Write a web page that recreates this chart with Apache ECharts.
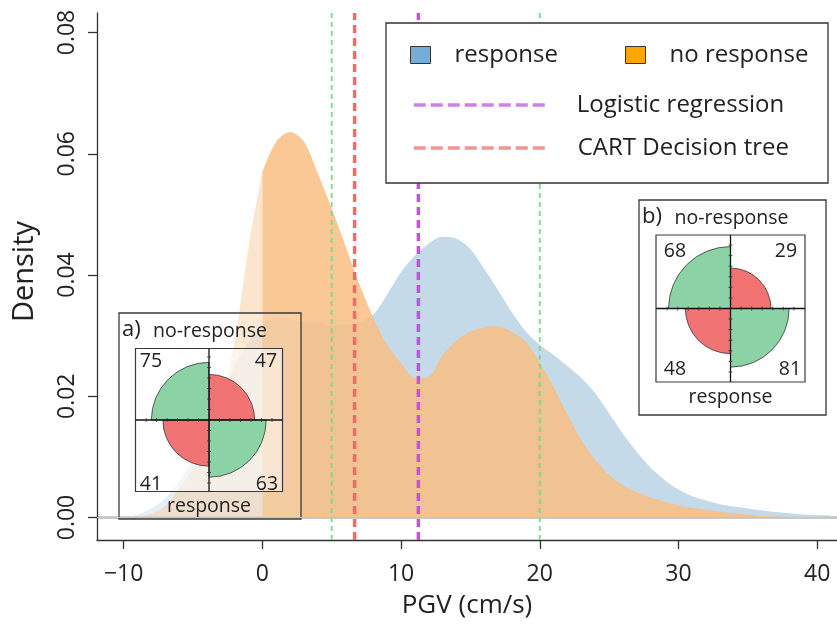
<!DOCTYPE html>
<html><head><meta charset="utf-8">
<script src="https://cdn.jsdelivr.net/npm/echarts@6/dist/echarts.min.js"></script>
<style>html,body{margin:0;padding:0;background:#fff}#c{width:837px;height:627px}</style>
</head><body><div id="c"></div>
<script>
// ---------------- data ----------------
const xGrid = [-10,-9,-8,-7,-6,-5,-4,-3,-2,-1,0,1,2,3,4,5,6,7,8,9,10,11,12,13,14,15,16,17,18,19,20,21,22,23,24,25,26,27,28,29,30,31,32,33,34,35,36,37,38,39,40,41];
const responseDensity = [0,0.0005,0.0015,0.0032,0.0060,0.0100,0.0150,0.0200,0.0250,0.0290,0.0318,0.0330,0.0328,0.0322,0.0322,0.0318,0.0318,0.0323,0.0335,0.0368,0.0405,0.0432,0.0452,0.0463,0.0460,0.0443,0.0410,0.0375,0.0338,0.0307,0.0285,0.0268,0.0250,0.0230,0.0205,0.0172,0.0138,0.0108,0.0082,0.0062,0.0046,0.0035,0.0028,0.0022,0.0018,0.0015,0.0012,0.0009,0.0007,0.0005,0.0004,0.0003];
const noResponseDensity = [0,0.0002,0.0006,0.0020,0.0048,0.0082,0.0125,0.0190,0.0290,0.0445,0.0570,0.0620,0.0636,0.0620,0.0568,0.0510,0.0448,0.0385,0.0330,0.0285,0.0255,0.0230,0.0232,0.0268,0.0292,0.0307,0.0314,0.0315,0.0306,0.0290,0.0256,0.0215,0.0170,0.0128,0.0095,0.0070,0.0053,0.0042,0.0033,0.0026,0.0020,0.0016,0.0013,0.0010,0.0007,0.0005,0.0003,0.0002,0,0,0,0];
const xTicks = [-10,0,10,20,30,40];
const yTicks = [0,0.02,0.04,0.06,0.08];
const xRange = [-11.92, 41.43];
const yRange = [-0.00371, 0.08322];
const logisticThreshold = 11.25;
const cartThreshold = 6.65;
const referenceLines = [5, 20];
// fourfold tables: [top-left, top-right, bottom-left, bottom-right]; rows = no-response / response
const insetALabel = 'a)';
const insetACounts = [75, 47, 41, 63];
const insetBLabel = 'b)';
const insetBCounts = [68, 29, 48, 81];

// ---------------- style ----------------
const FONT = '"Open Sans", "Noto Sans", sans-serif';
const TXT = '#222';
const BLUE_LEG = '#76ACD6', BLUE_AREA = '#C5DAE9';
const ORANGE_LEG = '#FFA500', ORANGE_AREA = 'rgb(248,190,130)';
const GREEN_Q = '#8BD3A5', RED_Q = '#F17373';

function pairs(vals, keep) {
  return xGrid.map((x, i) => [x, vals[i]]).filter(p => keep(p[0]));
}
function areaSeries(name, vals, keep, itemColor, areaColor, opacity) {
  return {
    type: 'line', name, data: pairs(vals, keep), symbol: 'none', showSymbol: false,
    smooth: 0.3, lineStyle: { width: 0 }, itemStyle: { color: itemColor },
    areaStyle: { color: areaColor, opacity }, silent: true, z: 2
  };
}
function vline(name, x, color, width, dash, z) {
  return {
    type: 'line', name, data: [[x, yRange[0]], [x, yRange[1]]], symbol: 'none', showSymbol: false,
    itemStyle: { color }, lineStyle: { color, width, type: dash }, silent: true, z
  };
}

// fourfold inset
function fourfold(counts, box, series, graphics) {
  const [tl, tr, bl, br] = counts;
  const top = tl + tr, bot = bl + br;
  const v = { tl: Math.sqrt(tl / top), tr: Math.sqrt(tr / top), bl: Math.sqrt(bl / bot), br: Math.sqrt(br / bot) };
  const vmax = Math.max(v.tl, v.tr, v.bl, v.br);
  const cx = box.cx, cy = box.cy;
  series.push({
    type: 'pie', center: [cx, cy], radius: [0, box.H * vmax], roseType: 'area',
    startAngle: 90, clockwise: true, silent: true, z: 6,
    label: { show: false }, labelLine: { show: false },
    itemStyle: { borderColor: '#3a3a3a', borderWidth: 0.8 },
    data: [
      { name: 'tr', value: v.tr, itemStyle: { color: RED_Q } },
      { name: 'br', value: v.br, itemStyle: { color: GREEN_Q } },
      { name: 'bl', value: v.bl, itemStyle: { color: RED_Q } },
      { name: 'tl', value: v.tl, itemStyle: { color: GREEN_Q } }
    ]
  });
  graphics.push({ type: 'rect', z: 5, shape: { x: box.ox, y: box.oy, width: box.ow, height: box.oh },
    style: { fill: 'rgba(255,255,255,0.15)', stroke: '#3a3a3a', lineWidth: 1.3 } });
  graphics.push({ type: 'rect', z: 5, shape: { x: box.ix, y: box.iy, width: box.iw, height: box.ih },
    style: { fill: 'rgba(255,255,255,0.5)', stroke: '#3a3a3a', lineWidth: 1.2 } });
  graphics.push({ type: 'line', z: 7, shape: { x1: box.ix, y1: cy, x2: box.ix + box.iw, y2: cy }, style: { stroke: '#111', lineWidth: 1.3 } });
  graphics.push({ type: 'line', z: 7, shape: { x1: cx, y1: box.iy, x2: cx, y2: box.iy + box.ih }, style: { stroke: '#111', lineWidth: 1.3 } });
  const step = box.H / 7;
  for (let k = 1; k <= 6; k++) {
    const d = k * step;
    [[cx - d, cy], [cx + d, cy]].forEach(p => graphics.push({ type: 'line', z: 7, shape: { x1: p[0], y1: p[1] - 2, x2: p[0], y2: p[1] + 2 }, style: { stroke: '#333', lineWidth: 0.8 } }));
    [[cx, cy - d], [cx, cy + d]].forEach(p => graphics.push({ type: 'line', z: 7, shape: { x1: p[0] - 2, y1: p[1], x2: p[0] + 2, y2: p[1] }, style: { stroke: '#333', lineWidth: 0.8 } }));
  }
  const t = (text, x, y, align, size) => graphics.push({ type: 'text', z: 7,
    style: { text, x, y, align: align || 'center', verticalAlign: 'middle', fill: TXT, font: (size || 19.5) + 'px ' + FONT } });
  t(box.label, box.ox + 3, box.ty, 'left', 22);
  t('no-response', cx + 1, box.ty + 1);
  t('response', cx, box.by);
  t(String(tl), box.n[0][0], box.n[0][1]);
  t(String(tr), box.n[1][0], box.n[1][1]);
  t(String(bl), box.n[2][0], box.n[2][1]);
  t(String(br), box.n[3][0], box.n[3][1]);
}

const series = [
  Object.assign(areaSeries('response-left', responseDensity, x => x <= 0, BLUE_LEG, BLUE_AREA, 0.5), {
    markLine: { silent: true, symbol: 'none', label: { show: false }, data: [{ yAxis: 0 }],
      lineStyle: { color: '#c4c4c4', width: 1, type: 'solid' } }
  }),
  areaSeries('response', responseDensity, x => x >= 0, BLUE_LEG, BLUE_AREA, 1),
  areaSeries('no response-left', noResponseDensity, x => x <= 0, ORANGE_LEG, ORANGE_AREA, 0.4),
  areaSeries('no response', noResponseDensity, x => x >= 0, ORANGE_LEG, ORANGE_AREA, 0.85),
  vline('reference A', referenceLines[0], '#7CD88B', 1.8, [5, 4], 3),
  vline('reference B', referenceLines[1], '#7CD88B', 1.8, [5, 4], 3),
  vline('CART Decision tree', cartThreshold, '#F26A6A', 3.5, [8, 5], 4),
  vline('Logistic regression', logisticThreshold, '#C64FE6', 3.5, [8, 5], 4)
];
const graphics = [
  { type: 'rect', z: 8, shape: { x: 386, y: 23, width: 442, height: 160 }, style: { fill: '#fff', stroke: '#333', lineWidth: 1.3 } }
];
fourfold(insetACounts, { label: insetALabel, cx: 209, cy: 420, H: 73.5,
  ox: 119, oy: 313, ow: 182, oh: 206, ix: 135.5, iy: 348.5, iw: 147, ih: 143, ty: 330, by: 506,
  n: [[151, 361], [266, 361], [151, 484], [267, 484]] }, series, graphics);
fourfold(insetBCounts, { label: insetBLabel, cx: 730.5, cy: 308.5, H: 74,
  ox: 639, oy: 200, ow: 187, oh: 215, ix: 656, iy: 235, iw: 149, ih: 147, ty: 217, by: 397,
  n: [[675, 251], [786, 251], [675, 369], [790, 369]] }, series, graphics);

const legTxt = (pad) => ({ fontSize: 24, fontFamily: FONT, color: TXT, lineHeight: 26, padding: [0, 0, 0, pad] });
const option = {
  animation: false,
  backgroundColor: '#fff',
  grid: { left: 97, top: 13, right: 0, bottom: 87, containLabel: false, outerBoundsMode: 'none' },
  xAxis: [{
    type: 'value', min: xRange[0], max: xRange[1], position: 'bottom',
    axisLine: { show: true, onZero: false, lineStyle: { color: '#333', width: 1.3 } },
    axisTick: { show: true, length: 9, customValues: xTicks, lineStyle: { color: '#333', width: 1.3 } },
    axisLabel: { customValues: xTicks, margin: 23, fontSize: 23, fontFamily: FONT, color: TXT,
      formatter: v => (v < 0 ? '\u2212' + Math.abs(v) : String(v)) },
    splitLine: { show: false },
    name: 'PGV (cm/s)', nameLocation: 'middle', nameGap: 53,
    nameTextStyle: { fontSize: 26, fontFamily: FONT, color: TXT }
  }, {
    type: 'value', min: xRange[0], max: xRange[1], position: 'top',
    axisLine: { show: true, lineStyle: { color: '#333', width: 1.3 } },
    axisTick: { show: false }, axisLabel: { show: false }, splitLine: { show: false }
  }],
  yAxis: {
    type: 'value', min: yRange[0], max: yRange[1],
    axisLine: { show: true, onZero: false, lineStyle: { color: '#333', width: 1.3 } },
    axisTick: { show: true, length: 9, customValues: yTicks, lineStyle: { color: '#333', width: 1.3 } },
    axisLabel: { customValues: yTicks, rotate: 90, margin: 18, fontSize: 23, fontFamily: FONT, color: TXT,
      formatter: v => v.toFixed(2) },
    splitLine: { show: false },
    name: 'Density', nameLocation: 'middle', nameGap: 58, nameRotate: 90,
    nameTextStyle: { fontSize: 29, fontFamily: FONT, color: TXT, padding: [0, 0, 0, 10] }
  },
  legend: [
    { data: ['response'], left: 410, top: 42, padding: 0, icon: 'rect', itemWidth: 20, itemHeight: 17,
      itemStyle: { borderColor: '#333', borderWidth: 1 }, textStyle: legTxt(19), selectedMode: false, z: 10 },
    { data: ['no response'], left: 625, top: 42, padding: 0, icon: 'rect', itemWidth: 20, itemHeight: 17,
      itemStyle: { borderColor: '#333', borderWidth: 1 }, textStyle: legTxt(19), selectedMode: false, z: 10 },
    { data: ['Logistic regression'], left: 412, top: 92, padding: 0, itemWidth: 135, itemHeight: 14,
      itemStyle: { opacity: 0 }, lineStyle: { width: 3.5, color: '#D27FEA', type: [12, 5] },
      textStyle: legTxt(23), selectedMode: false, z: 10 },
    { data: ['CART Decision tree'], left: 412, top: 135, padding: 0, itemWidth: 135, itemHeight: 14,
      itemStyle: { opacity: 0 }, lineStyle: { width: 3.5, color: '#F29494', type: [12, 5] },
      textStyle: legTxt(24), selectedMode: false, z: 10 }
  ],
  graphic: graphics,
  series
};
const chart = echarts.init(document.getElementById('c'), null, { renderer: 'canvas' });
chart.setOption(option);
</script></body></html>
